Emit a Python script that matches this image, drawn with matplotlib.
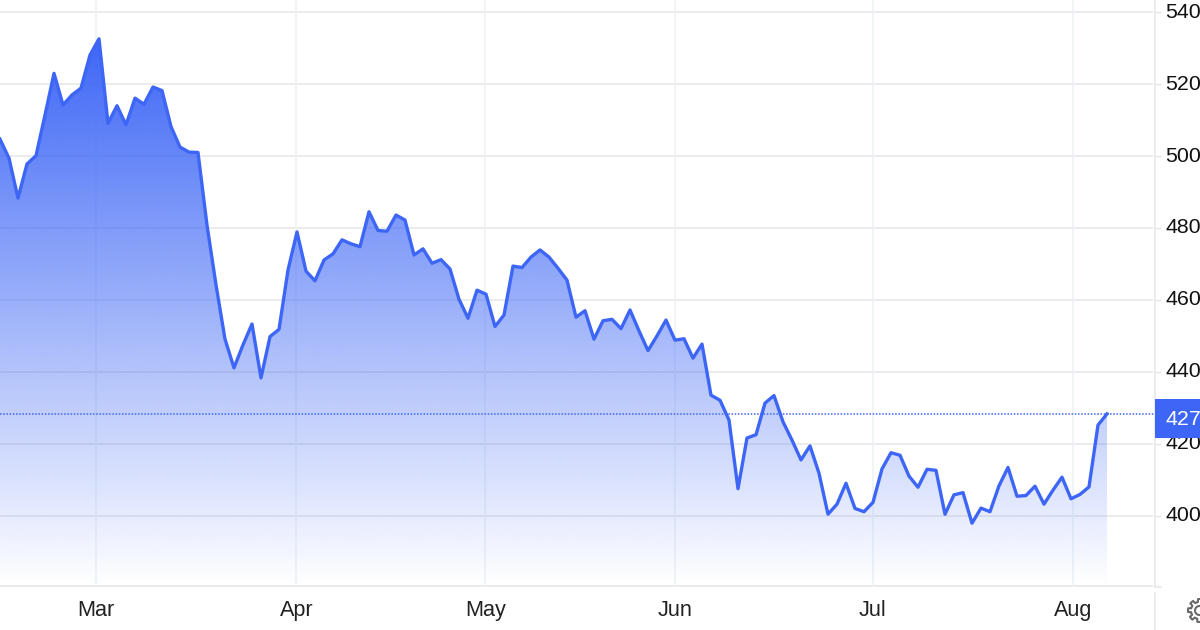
import matplotlib
matplotlib.use("Agg")
import matplotlib.pyplot as plt
import numpy as np
from matplotlib.patches import Rectangle
from matplotlib.transforms import ScaledTranslation

plt.rcParams['font.family'] = ['Liberation Sans', 'DejaVu Sans']

prices = [
    504.7, 499.4, 488.3, 497.8, 500.1, 511.4, 523.0, 514.2, 517.0, 518.9,
    528.1, 532.6, 509.1, 514.0, 508.7, 516.1, 514.4, 519.2, 518.2, 508.2,
    502.5, 501.1, 501.0, 480.8, 464.2, 449.1, 441.1, 447.5, 453.3, 438.3,
    449.8, 451.8, 468.3, 478.9, 468.0, 465.3, 471.1, 472.8, 476.7, 475.6,
    474.8, 484.5, 479.3, 479.1, 483.6, 482.2, 472.5, 474.2, 470.2, 471.2,
    468.6, 460.2, 454.9, 462.7, 461.6, 452.6, 455.8, 469.4, 469.0, 471.9,
    473.9, 471.9, 468.8, 465.5, 455.2, 457.0, 449.1, 454.2, 454.6, 452.0,
    457.2, 451.4, 445.9, 450.0, 454.4, 448.8, 449.2, 443.8, 447.7, 433.5,
    432.1, 426.6, 407.5, 421.6, 422.5, 431.3, 433.4, 426.1, 421.0, 415.5,
    419.4, 411.8, 400.4, 403.2, 409.0, 402.0, 401.1, 403.7, 413.0, 417.5,
    416.8, 411.0, 407.9, 412.9, 412.6, 400.4, 405.8, 406.4, 397.9, 402.1,
    401.1, 408.3, 413.4, 405.4, 405.6, 408.2, 403.2, 407.1, 410.7, 404.7,
    405.9, 408.0, 425.2, 428.3,
]
month_labels = ['Mar', 'Apr', 'May', 'Jun', 'Jul', 'Aug']
month_pos = [10.67, 32.94, 53.94, 75.0, 97.0, 119.2]
y_ticks = [400, 420, 440, 460, 480, 500, 520, 540]
last_label = '427'

BLUE = '#3d66f6'
GRID = '#e7e7e7'
AXIS = '#e4e6ea'
x = np.arange(len(prices))

W, H = 1200, 630
AX_R, AX_B = 1155, 586.5
YLIM = (380.3, 543.4)
XLIM = (0, AX_R / 9)


def fx(px):
    return px / W


def fy(px):
    return 1 - px / H


fig = plt.figure(figsize=(12, 6.3), dpi=100)
ax = fig.add_axes([0, 1 - AX_B / H, AX_R / W, AX_B / H])
ax.set_xlim(*XLIM)
ax.set_ylim(*YLIM)

for s in ['top', 'left', 'bottom']:
    ax.spines[s].set_visible(False)
ax.spines['right'].set_color(AXIS)
ax.spines['right'].set_linewidth(1.1)

# horizontal lines stop just short of the axis
ax.hlines(y_ticks, 0, 1153 / 9, color=GRID, lw=1.1, zorder=1)
ax.hlines(YLIM[0] + 0.1, 0, 1153 / 9, color=GRID, lw=1.3, zorder=1)
ax.vlines(month_pos, YLIM[0], YLIM[1], color='#eef2f7', lw=1.1, zorder=1)

ax.yaxis.tick_right()
ax.set_yticks(y_ticks)
ax.set_xticks(month_pos)
ax.set_xticklabels(month_labels)
ax.tick_params(axis='y', length=4.3, width=1.0, color=AXIS, pad=3, labelsize=15.4, labelcolor='#111111')
ax.tick_params(axis='x', length=0, pad=10, labelsize=15.6, labelcolor='#222222')
shift = ScaledTranslation(0, 2 / 100, fig.dpi_scale_trans)
for t in ax.get_yticklabels():
    t.set_transform(t.get_transform() + shift)

# gradient under the line
poly = ax.fill_between(x, prices, YLIM[0], color='none', lw=0)
grad = np.zeros((256, 1, 4))
grad[..., 0], grad[..., 1], grad[..., 2] = 0x3d / 255, 0x66 / 255, 0xf6 / 255
grad[:, 0, 3] = np.linspace(1.0, 0.0, 256)
im = ax.imshow(grad, extent=[x[0], x[-1], YLIM[0], max(prices)], origin='upper',
               aspect='auto', zorder=2)
im.set_clip_path(poly.get_paths()[0], transform=ax.transData)
ax.set_xlim(*XLIM)
ax.set_ylim(*YLIM)

ax.plot(x, prices, color=BLUE, lw=2.4, zorder=3)
ax.axhline(prices[-1], color=BLUE, lw=1.1, ls=(0, (1, 1.1)), zorder=3)

# price tag on the axis
fig.add_artist(Rectangle((fx(AX_R), fy(438)), 45 / W, 39 / H, transform=fig.transFigure,
                         facecolor=BLUE, edgecolor='none', zorder=5))
fig.text(fx(1165), fy(419.5), last_label, color='white', fontsize=15.4, va='center', ha='left', zorder=6)

# bottom stub and separator
fig.add_artist(plt.Line2D([fx(AX_R), fx(1161)], [fy(586.5), fy(586.5)], color=AXIS, lw=1.1))
fig.add_artist(plt.Line2D([fx(AX_R), fx(AX_R)], [0, fy(593)], color=AXIS, lw=1.1))

# settings gear, cut by the right edge
angles = np.linspace(0, 2 * np.pi, 97)
radii = np.where(np.cos(8 * angles) > 0, 11.5, 8.5)
fig.add_artist(plt.Line2D(fx(1199.5 + radii * np.cos(angles)), fy(610.5 + radii * np.sin(angles)),
                          color='#6a6a6a', lw=1.5))
fig.add_artist(plt.Line2D(fx(1199.5 + 4.5 * np.cos(angles)), fy(610.5 + 4.5 * np.sin(angles)),
                          color='#6a6a6a', lw=1.5))

fig.savefig('out.png', dpi=100)
